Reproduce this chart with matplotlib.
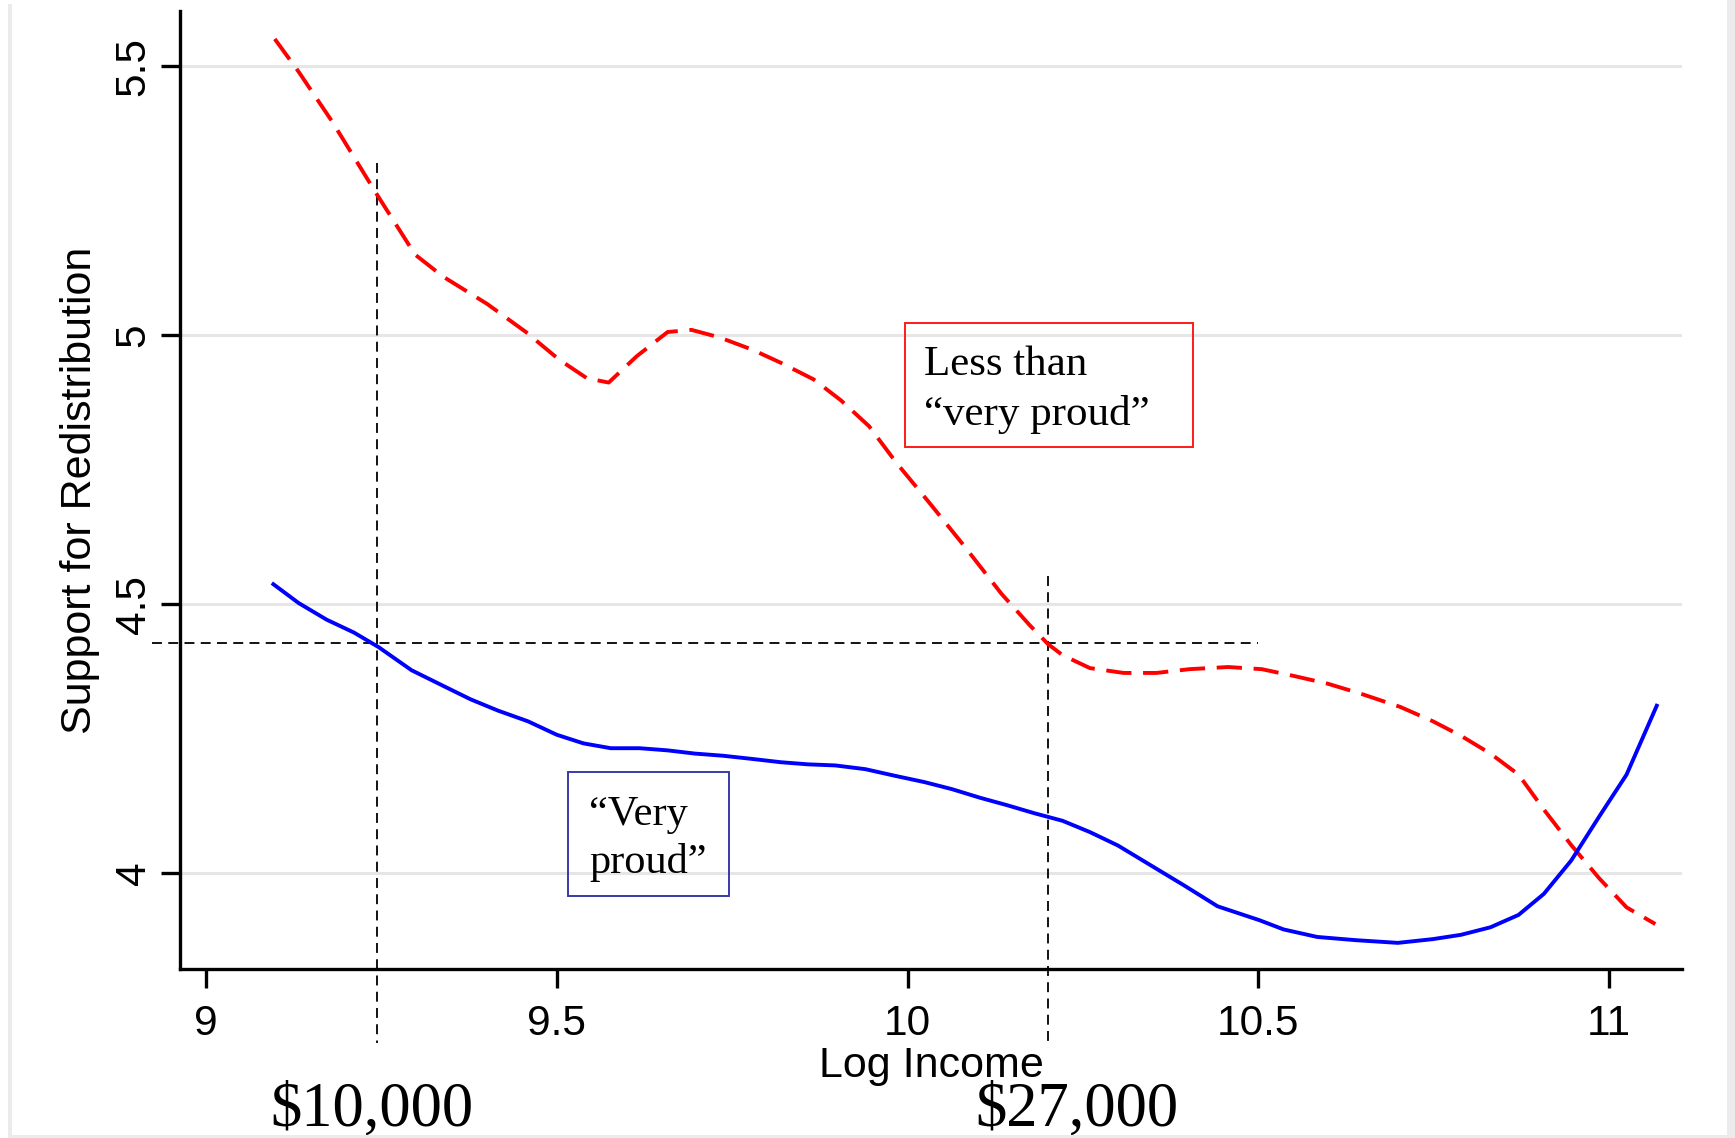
import matplotlib
matplotlib.use("Agg")
import matplotlib.pyplot as plt
from matplotlib.patches import Rectangle
import matplotlib.transforms as mtransforms

# ---------------- data ----------------
red_x = [9.098, 9.132, 9.18, 9.243, 9.298, 9.338, 9.401, 9.456, 9.503, 9.543, 9.574,
         9.614, 9.658, 9.692, 9.732, 9.779, 9.819, 9.866, 9.905, 9.945, 9.984, 10.032,
         10.079, 10.134, 10.174, 10.2, 10.221, 10.26, 10.308, 10.355, 10.402, 10.457,
         10.505, 10.552, 10.599, 10.647, 10.702, 10.749, 10.789, 10.831, 10.871, 10.907,
         10.946, 10.986, 11.025, 11.066]
red_y = [5.551, 5.49, 5.397, 5.263, 5.15, 5.109, 5.058, 5.006, 4.955, 4.92, 4.912,
         4.961, 5.006, 5.01, 4.996, 4.973, 4.949, 4.918, 4.879, 4.831, 4.763, 4.687,
         4.611, 4.519, 4.461, 4.426, 4.405, 4.381, 4.372, 4.372, 4.379, 4.383,
         4.379, 4.366, 4.352, 4.333, 4.309, 4.282, 4.255, 4.222, 4.183, 4.118,
         4.052, 3.99, 3.936, 3.905]

blue_x = [9.096, 9.132, 9.172, 9.211, 9.246, 9.293, 9.338, 9.377, 9.416, 9.459, 9.5,
          9.538, 9.577, 9.618, 9.658, 9.697, 9.737, 9.779, 9.819, 9.858, 9.897, 9.94,
          9.981, 10.024, 10.063, 10.103, 10.142, 10.181, 10.221, 10.26, 10.3, 10.347,
          10.394, 10.442, 10.502, 10.536, 10.584, 10.639, 10.699, 10.749, 10.789, 10.831,
          10.871, 10.907, 10.946, 10.986, 11.025, 11.068]
blue_y = [4.537, 4.502, 4.471, 4.447, 4.42, 4.377, 4.348, 4.323, 4.302, 4.282, 4.257,
          4.241, 4.232, 4.232, 4.228, 4.222, 4.218, 4.212, 4.206, 4.202, 4.2, 4.193,
          4.181, 4.169, 4.156, 4.14, 4.126, 4.111, 4.097, 4.076, 4.051, 4.014,
          3.977, 3.938, 3.912, 3.895, 3.881, 3.875, 3.870, 3.877, 3.885, 3.899,
          3.922, 3.961, 4.023, 4.105, 4.183, 4.311]

x_ticks = [9, 9.5, 10, 10.5, 11]
x_ticklabels = ["9", "9.5", "10", "10.5", "11"]
y_ticks = [4, 4.5, 5, 5.5]
y_ticklabels = ["4", "4.5", "5", "5.5"]

ref_income_low = 9.2436     # $10,000
ref_income_high = 10.2      # $27,000
ref_support = 4.428
income_labels = ["$10,000", "$27,000"]

SANS = "Liberation Sans"
SERIF = "Liberation Serif"

# ---------------- figure ----------------
W, H = 1735, 1138
fig = plt.figure(figsize=(W / 100, H / 100), dpi=100)
fig.patch.set_facecolor("white")

# light gray frame remnants
gray = "#ebebeb"
fig.add_artist(Rectangle((8 / W, 0), 4 / W, 1 - 4 / H, transform=fig.transFigure,
                         facecolor=gray, edgecolor="none"))
fig.add_artist(Rectangle((8 / W, 0), (1729 - 8) / W, 3 / H, transform=fig.transFigure,
                         facecolor=gray, edgecolor="none"))
fig.add_artist(Rectangle((1727 / W, 0), 8 / W, 1, transform=fig.transFigure,
                         facecolor=gray, edgecolor="none"))

ax_l, ax_r, ax_t, ax_b = 180, 1682, 11, 969
ax = fig.add_axes([ax_l / W, 1 - ax_b / H, (ax_r - ax_l) / W, (ax_b - ax_t) / H])
ax.set_facecolor("none")
ax.set_xlim(8.9629, 11.104)
ax.set_ylim(3.8214, 5.603)

for s in ["top", "right"]:
    ax.spines[s].set_visible(False)
for s in ["left", "bottom"]:
    ax.spines[s].set_linewidth(2.4)
    ax.spines[s].set_color("black")

ax.set_xticks(x_ticks)
ax.set_xticklabels(x_ticklabels, fontfamily=SANS, fontsize=30.5)
ax.set_yticks(y_ticks)
ax.set_yticklabels(y_ticklabels, fontfamily=SANS, fontsize=30.5, rotation=90, va="center")
ax.tick_params(axis="both", length=14, width=2.4, color="black", direction="out")
ax.tick_params(axis="x", pad=11)
ax.tick_params(axis="y", pad=5)

ax.yaxis.grid(True, color="#e6e6e6", linewidth=2.2)
ax.set_axisbelow(True)

# curves
ax.plot(red_x, red_y, color="#ff0000", linewidth=2.8, dashes=(6.5, 3), zorder=3)
ax.plot(blue_x, blue_y, color="#0000ff", linewidth=2.8, zorder=3)

# reference lines
ref_style = dict(color="black", linewidth=1.3, linestyle=(0, (5.5, 3.5)), clip_on=False, zorder=2)
ax.plot([ref_income_low, ref_income_low], [5.32, 3.684], **ref_style)
ax.plot([ref_income_high, ref_income_high], [4.553, 3.684], **ref_style)
ax.plot([8.923, 10.5], [ref_support, ref_support], **ref_style)

# annotation boxes
ax.add_patch(Rectangle((9.9964, 4.7922), 10.407 - 9.9964, 5.0228 - 4.7922,
                       fill=False, edgecolor="#ff1a1a", linewidth=1.4, zorder=4))
ax.text(10.0235, 4.926, "Less than", fontfamily=SERIF, fontsize=31, va="baseline", ha="left", zorder=5)
ax.text(10.0235, 4.833, "\u201cvery proud\u201d", fontfamily=SERIF, fontsize=31, va="baseline", ha="left", zorder=5)

ax.add_patch(Rectangle((9.5165, 3.9577), 9.746 - 9.5165, 4.1883 - 3.9577,
                       fill=False, edgecolor="#3a3aa6", linewidth=1.4, zorder=4))
ax.text(9.546, 4.0892, "\u201cVery", fontfamily=SERIF, fontsize=30.5, va="baseline", ha="left", zorder=5)
ax.text(9.546, 4.0, "proud\u201d", fontfamily=SERIF, fontsize=30.5, va="baseline", ha="left", zorder=5)

# axis labels
fig.text(((ax_l + ax_r) / 2) / W, 1 - 1077 / H, "Log Income", fontfamily=SANS, fontsize=31,
         ha="center", va="baseline")
fig.text(80 / W, 1 - 490 / H, "Support for Redistribution", fontfamily=SANS, fontsize=31,
         rotation=90, ha="center", va="center")

# dollar labels under the reference lines
blend = mtransforms.blended_transform_factory(ax.transData, fig.transFigure)
ax.text(9.2366, 1 - 1126 / H, income_labels[0], transform=blend, fontfamily=SERIF, fontsize=45,
        ha="center", va="baseline", clip_on=False)
ax.text(10.2416, 1 - 1126 / H, income_labels[1], transform=blend, fontfamily=SERIF, fontsize=45,
        ha="center", va="baseline", clip_on=False)

fig.savefig("out.png", dpi=100, facecolor="white")
